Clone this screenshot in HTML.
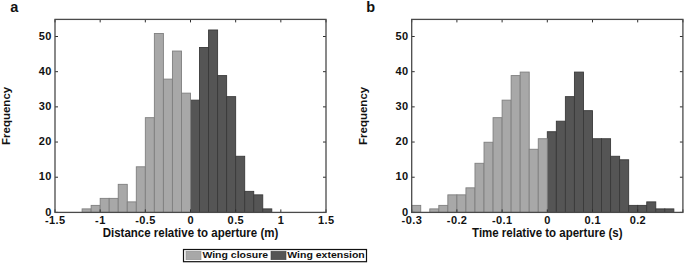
<!DOCTYPE html>
<html><head><meta charset="utf-8"><style>
html,body{margin:0;padding:0;background:#fff;}
body{width:685px;height:264px;overflow:hidden;}
svg{display:block;}
text{font-family:"Liberation Sans",sans-serif;font-weight:bold;fill:#111;}
.tk{font-size:11px;letter-spacing:0.4px;}
.lab{font-size:11.5px;}
.ttl{font-size:14.5px;}
.leg{font-size:10.5px;}
line,rect[fill=none]{stroke:#4a4a4a;stroke-width:1.3;}
line.tkl{stroke:#2e2e2e;stroke-width:1.0;}
</style></head><body>
<svg width="685" height="264" viewBox="0 0 685 264">
<rect x="190.5" y="100.14" width="9.03" height="112.26" fill="#555555" stroke="#3a3a3a" stroke-width="0.9"/>
<rect x="199.53" y="47.52" width="9.03" height="164.88" fill="#555555" stroke="#3a3a3a" stroke-width="0.9"/>
<rect x="208.57" y="29.98" width="9.03" height="182.42" fill="#555555" stroke="#3a3a3a" stroke-width="0.9"/>
<rect x="217.6" y="75.59" width="9.03" height="136.81" fill="#555555" stroke="#3a3a3a" stroke-width="0.9"/>
<rect x="226.63" y="96.64" width="9.03" height="115.76" fill="#555555" stroke="#3a3a3a" stroke-width="0.9"/>
<rect x="235.67" y="156.27" width="9.03" height="56.13" fill="#555555" stroke="#3a3a3a" stroke-width="0.9"/>
<rect x="244.7" y="191.35" width="9.03" height="21.05" fill="#555555" stroke="#3a3a3a" stroke-width="0.9"/>
<rect x="253.73" y="194.86" width="9.03" height="17.54" fill="#555555" stroke="#3a3a3a" stroke-width="0.9"/>
<rect x="262.77" y="208.89" width="9.03" height="3.51" fill="#555555" stroke="#3a3a3a" stroke-width="0.9"/>
<rect x="82.1" y="208.89" width="9.03" height="3.51" fill="#a8a8a8" stroke="#7f7f7f" stroke-width="0.9"/>
<rect x="91.13" y="205.38" width="9.03" height="7.02" fill="#a8a8a8" stroke="#7f7f7f" stroke-width="0.9"/>
<rect x="100.17" y="198.37" width="9.03" height="14.03" fill="#a8a8a8" stroke="#7f7f7f" stroke-width="0.9"/>
<rect x="109.2" y="198.37" width="9.03" height="14.03" fill="#a8a8a8" stroke="#7f7f7f" stroke-width="0.9"/>
<rect x="118.23" y="184.34" width="9.03" height="28.06" fill="#a8a8a8" stroke="#7f7f7f" stroke-width="0.9"/>
<rect x="127.27" y="201.88" width="9.03" height="10.52" fill="#a8a8a8" stroke="#7f7f7f" stroke-width="0.9"/>
<rect x="136.3" y="166.8" width="9.03" height="45.6" fill="#a8a8a8" stroke="#7f7f7f" stroke-width="0.9"/>
<rect x="145.33" y="117.68" width="9.03" height="94.72" fill="#a8a8a8" stroke="#7f7f7f" stroke-width="0.9"/>
<rect x="154.37" y="33.49" width="9.03" height="178.91" fill="#a8a8a8" stroke="#7f7f7f" stroke-width="0.9"/>
<rect x="163.4" y="79.1" width="9.03" height="133.3" fill="#a8a8a8" stroke="#7f7f7f" stroke-width="0.9"/>
<rect x="172.43" y="51.03" width="9.03" height="161.37" fill="#a8a8a8" stroke="#7f7f7f" stroke-width="0.9"/>
<rect x="181.47" y="93.13" width="9.03" height="119.27" fill="#a8a8a8" stroke="#7f7f7f" stroke-width="0.9"/>
<line class="tkl" x1="55" y1="212.4" x2="55" y2="209.4" />
<line class="tkl" x1="55" y1="19.4" x2="55" y2="22.4" />
<line class="tkl" x1="100.17" y1="212.4" x2="100.17" y2="209.4" />
<line class="tkl" x1="100.17" y1="19.4" x2="100.17" y2="22.4" />
<line class="tkl" x1="145.33" y1="212.4" x2="145.33" y2="209.4" />
<line class="tkl" x1="145.33" y1="19.4" x2="145.33" y2="22.4" />
<line class="tkl" x1="190.5" y1="212.4" x2="190.5" y2="209.4" />
<line class="tkl" x1="190.5" y1="19.4" x2="190.5" y2="22.4" />
<line class="tkl" x1="235.67" y1="212.4" x2="235.67" y2="209.4" />
<line class="tkl" x1="235.67" y1="19.4" x2="235.67" y2="22.4" />
<line class="tkl" x1="280.83" y1="212.4" x2="280.83" y2="209.4" />
<line class="tkl" x1="280.83" y1="19.4" x2="280.83" y2="22.4" />
<line class="tkl" x1="326" y1="212.4" x2="326" y2="209.4" />
<line class="tkl" x1="326" y1="19.4" x2="326" y2="22.4" />
<line class="tkl" x1="55" y1="212.4" x2="58" y2="212.4" />
<line class="tkl" x1="326" y1="212.4" x2="323" y2="212.4" />
<line class="tkl" x1="55" y1="177.22" x2="58" y2="177.22" />
<line class="tkl" x1="326" y1="177.22" x2="323" y2="177.22" />
<line class="tkl" x1="55" y1="142.04" x2="58" y2="142.04" />
<line class="tkl" x1="326" y1="142.04" x2="323" y2="142.04" />
<line class="tkl" x1="55" y1="106.86" x2="58" y2="106.86" />
<line class="tkl" x1="326" y1="106.86" x2="323" y2="106.86" />
<line class="tkl" x1="55" y1="71.68" x2="58" y2="71.68" />
<line class="tkl" x1="326" y1="71.68" x2="323" y2="71.68" />
<line class="tkl" x1="55" y1="36.5" x2="58" y2="36.5" />
<line class="tkl" x1="326" y1="36.5" x2="323" y2="36.5" />
<rect x="55" y="19.4" width="271" height="193" fill="none" />
<text class="tk" x="55.2" y="224.0" text-anchor="middle">-1.5</text>
<text class="tk" x="100.37" y="224.0" text-anchor="middle">-1</text>
<text class="tk" x="145.53" y="224.0" text-anchor="middle">-0.5</text>
<text class="tk" x="190.7" y="224.0" text-anchor="middle">0</text>
<text class="tk" x="235.87" y="224.0" text-anchor="middle">0.5</text>
<text class="tk" x="281.03" y="224.0" text-anchor="middle">1</text>
<text class="tk" x="326.2" y="224.0" text-anchor="middle">1.5</text>
<text class="tk" x="51.8" y="215.6" text-anchor="end">0</text>
<text class="tk" x="51.8" y="180.42" text-anchor="end">10</text>
<text class="tk" x="51.8" y="145.24" text-anchor="end">20</text>
<text class="tk" x="51.8" y="110.06" text-anchor="end">30</text>
<text class="tk" x="51.8" y="74.88" text-anchor="end">40</text>
<text class="tk" x="51.8" y="39.7" text-anchor="end">50</text>
<text class="lab" transform="translate(190.5,236.9) scale(1,1.08)" text-anchor="middle">Distance relative to aperture (m)</text>
<text class="lab" transform="translate(10,115.9) rotate(-90)" text-anchor="middle">Frequency</text>
<text class="ttl" x="10.3" y="11.7">a</text>
<rect x="547.3" y="131.72" width="9.04" height="80.68" fill="#555555" stroke="#3a3a3a" stroke-width="0.9"/>
<rect x="556.34" y="121.19" width="9.04" height="91.21" fill="#555555" stroke="#3a3a3a" stroke-width="0.9"/>
<rect x="565.38" y="96.64" width="9.04" height="115.76" fill="#555555" stroke="#3a3a3a" stroke-width="0.9"/>
<rect x="574.42" y="72.08" width="9.04" height="140.32" fill="#555555" stroke="#3a3a3a" stroke-width="0.9"/>
<rect x="583.46" y="110.67" width="9.04" height="101.73" fill="#555555" stroke="#3a3a3a" stroke-width="0.9"/>
<rect x="592.5" y="138.73" width="9.04" height="73.67" fill="#555555" stroke="#3a3a3a" stroke-width="0.9"/>
<rect x="601.54" y="138.73" width="9.04" height="73.67" fill="#555555" stroke="#3a3a3a" stroke-width="0.9"/>
<rect x="610.58" y="156.27" width="9.04" height="56.13" fill="#555555" stroke="#3a3a3a" stroke-width="0.9"/>
<rect x="619.62" y="159.78" width="9.04" height="52.62" fill="#555555" stroke="#3a3a3a" stroke-width="0.9"/>
<rect x="628.66" y="205.38" width="9.04" height="7.02" fill="#555555" stroke="#3a3a3a" stroke-width="0.9"/>
<rect x="637.7" y="205.38" width="9.04" height="7.02" fill="#555555" stroke="#3a3a3a" stroke-width="0.9"/>
<rect x="646.74" y="201.88" width="9.04" height="10.52" fill="#555555" stroke="#3a3a3a" stroke-width="0.9"/>
<rect x="655.78" y="208.89" width="9.04" height="3.51" fill="#555555" stroke="#3a3a3a" stroke-width="0.9"/>
<rect x="664.82" y="208.89" width="9.04" height="3.51" fill="#555555" stroke="#3a3a3a" stroke-width="0.9"/>
<rect x="411.7" y="205.38" width="9.04" height="7.02" fill="#a8a8a8" stroke="#7f7f7f" stroke-width="0.9"/>
<rect x="429.78" y="208.89" width="9.04" height="3.51" fill="#a8a8a8" stroke="#7f7f7f" stroke-width="0.9"/>
<rect x="438.82" y="205.38" width="9.04" height="7.02" fill="#a8a8a8" stroke="#7f7f7f" stroke-width="0.9"/>
<rect x="447.86" y="194.86" width="9.04" height="17.54" fill="#a8a8a8" stroke="#7f7f7f" stroke-width="0.9"/>
<rect x="456.9" y="194.86" width="9.04" height="17.54" fill="#a8a8a8" stroke="#7f7f7f" stroke-width="0.9"/>
<rect x="465.94" y="187.84" width="9.04" height="24.56" fill="#a8a8a8" stroke="#7f7f7f" stroke-width="0.9"/>
<rect x="474.98" y="163.29" width="9.04" height="49.11" fill="#a8a8a8" stroke="#7f7f7f" stroke-width="0.9"/>
<rect x="484.02" y="142.24" width="9.04" height="70.16" fill="#a8a8a8" stroke="#7f7f7f" stroke-width="0.9"/>
<rect x="493.06" y="117.68" width="9.04" height="94.72" fill="#a8a8a8" stroke="#7f7f7f" stroke-width="0.9"/>
<rect x="502.1" y="100.14" width="9.04" height="112.26" fill="#a8a8a8" stroke="#7f7f7f" stroke-width="0.9"/>
<rect x="511.14" y="75.59" width="9.04" height="136.81" fill="#a8a8a8" stroke="#7f7f7f" stroke-width="0.9"/>
<rect x="520.18" y="72.08" width="9.04" height="140.32" fill="#a8a8a8" stroke="#7f7f7f" stroke-width="0.9"/>
<rect x="529.22" y="149.26" width="9.04" height="63.14" fill="#a8a8a8" stroke="#7f7f7f" stroke-width="0.9"/>
<rect x="538.26" y="138.73" width="9.04" height="73.67" fill="#a8a8a8" stroke="#7f7f7f" stroke-width="0.9"/>
<line class="tkl" x1="411.7" y1="212.4" x2="411.7" y2="209.4" />
<line class="tkl" x1="411.7" y1="19.4" x2="411.7" y2="22.4" />
<line class="tkl" x1="456.9" y1="212.4" x2="456.9" y2="209.4" />
<line class="tkl" x1="456.9" y1="19.4" x2="456.9" y2="22.4" />
<line class="tkl" x1="502.1" y1="212.4" x2="502.1" y2="209.4" />
<line class="tkl" x1="502.1" y1="19.4" x2="502.1" y2="22.4" />
<line class="tkl" x1="547.3" y1="212.4" x2="547.3" y2="209.4" />
<line class="tkl" x1="547.3" y1="19.4" x2="547.3" y2="22.4" />
<line class="tkl" x1="592.5" y1="212.4" x2="592.5" y2="209.4" />
<line class="tkl" x1="592.5" y1="19.4" x2="592.5" y2="22.4" />
<line class="tkl" x1="637.7" y1="212.4" x2="637.7" y2="209.4" />
<line class="tkl" x1="637.7" y1="19.4" x2="637.7" y2="22.4" />
<line class="tkl" x1="682.9" y1="212.4" x2="682.9" y2="209.4" />
<line class="tkl" x1="682.9" y1="19.4" x2="682.9" y2="22.4" />
<line class="tkl" x1="411.7" y1="212.4" x2="414.7" y2="212.4" />
<line class="tkl" x1="682.9" y1="212.4" x2="679.9" y2="212.4" />
<line class="tkl" x1="411.7" y1="177.22" x2="414.7" y2="177.22" />
<line class="tkl" x1="682.9" y1="177.22" x2="679.9" y2="177.22" />
<line class="tkl" x1="411.7" y1="142.04" x2="414.7" y2="142.04" />
<line class="tkl" x1="682.9" y1="142.04" x2="679.9" y2="142.04" />
<line class="tkl" x1="411.7" y1="106.86" x2="414.7" y2="106.86" />
<line class="tkl" x1="682.9" y1="106.86" x2="679.9" y2="106.86" />
<line class="tkl" x1="411.7" y1="71.68" x2="414.7" y2="71.68" />
<line class="tkl" x1="682.9" y1="71.68" x2="679.9" y2="71.68" />
<line class="tkl" x1="411.7" y1="36.5" x2="414.7" y2="36.5" />
<line class="tkl" x1="682.9" y1="36.5" x2="679.9" y2="36.5" />
<rect x="411.7" y="19.4" width="271.2" height="193" fill="none" />
<text class="tk" x="411.9" y="224.0" text-anchor="middle">-0.3</text>
<text class="tk" x="457.1" y="224.0" text-anchor="middle">-0.2</text>
<text class="tk" x="502.3" y="224.0" text-anchor="middle">-0.1</text>
<text class="tk" x="547.5" y="224.0" text-anchor="middle">0</text>
<text class="tk" x="592.7" y="224.0" text-anchor="middle">0.1</text>
<text class="tk" x="637.9" y="224.0" text-anchor="middle">0.2</text>
<text class="tk" x="408.5" y="215.6" text-anchor="end">0</text>
<text class="tk" x="408.5" y="180.42" text-anchor="end">10</text>
<text class="tk" x="408.5" y="145.24" text-anchor="end">20</text>
<text class="tk" x="408.5" y="110.06" text-anchor="end">30</text>
<text class="tk" x="408.5" y="74.88" text-anchor="end">40</text>
<text class="tk" x="408.5" y="39.7" text-anchor="end">50</text>
<text class="lab" transform="translate(547.3,236.9) scale(1,1.08)" text-anchor="middle">Time relative to aperture (s)</text>
<text class="lab" transform="translate(366.6,115.9) rotate(-90)" text-anchor="middle">Frequency</text>
<text class="ttl" x="366.3" y="11.7">b</text>
<rect x="183.5" y="249.5" width="183" height="12.2" fill="#fff" stroke="#111" stroke-width="1.2"/>
<rect x="186" y="251.2" width="15" height="8.5" fill="#a8a8a8" stroke="#8c8c8c" stroke-width="0.6"/>
<text class="leg" transform="translate(202.4,258.2) scale(1,0.885)">Wing closure</text>
<rect x="271" y="251.2" width="15" height="8.5" fill="#555555" stroke="#454545" stroke-width="0.6"/>
<text class="leg" transform="translate(287.3,258.2) scale(1,0.885)">Wing extension</text>
</svg>
</body></html>
